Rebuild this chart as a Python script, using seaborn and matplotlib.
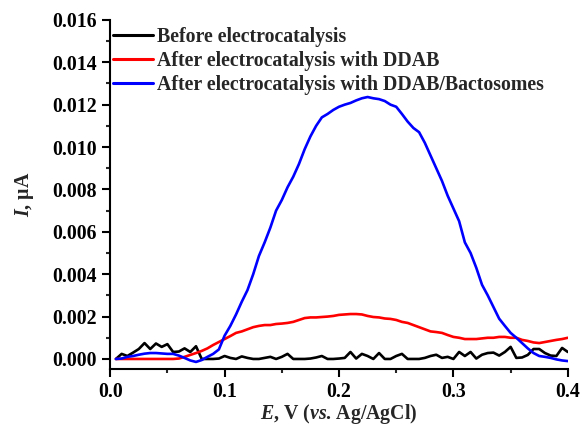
import numpy as np
import pandas as pd
import seaborn as sns
import matplotlib as mpl
from matplotlib import pyplot as plt
from matplotlib.ticker import MultipleLocator

# potential grid, V (vs. Ag/AgCl)
potential = np.round(np.arange(0.005, 0.4001, 0.005), 3)

before = [
    0.0, 0.00024, 0.00014, 0.0003, 0.00047, 0.00075, 0.00047, 0.00073, 0.00057, 0.0007,
    0.00033, 0.00035, 0.0005, 0.00033, 0.0006, 0.0, 0.0, 0.0, 0.00002, 0.00014,
    0.00005, 0.0, 0.00012, 0.00005, 0.0, 0.0, 0.00005, 0.0001, 0.0, 0.0001,
    0.00024, 0.0, 0.0, 0.0, 0.00002, 0.00007, 0.00014, 0.0, 0.0, 0.00002,
    0.00005, 0.00033, 0.00002, 0.00024, 0.00014, 0.0, 0.00028, 0.0, 0.0, 0.00014,
    0.00024, 0.0, 0.0, 0.0, 0.00005, 0.00014, 0.0002, 0.00005, 0.0001, 0.0,
    0.00033, 0.00014, 0.00033, 0.00002, 0.0002, 0.00028, 0.0003, 0.00016, 0.00033, 0.00057,
    0.00005, 0.00007, 0.00019, 0.00047, 0.00047, 0.00028, 0.00016, 0.00014, 0.00052, 0.00033,
]

ddab = [
    0.0, 0.0, 0.0, 0.0, 0.0, 0.0, 0.0, 0.0, 0.0, 0.0,
    0.0, 0.00002, 0.0001, 0.00019, 0.00028, 0.00038, 0.0005, 0.00066, 0.0008, 0.00094,
    0.00108, 0.00123, 0.0013, 0.0014, 0.0015, 0.00156, 0.0016, 0.0016, 0.00165, 0.00167,
    0.0017, 0.00175, 0.00184, 0.00193, 0.00196, 0.00196, 0.00198, 0.002, 0.00203, 0.00208,
    0.0021, 0.00212, 0.00212, 0.0021, 0.00203, 0.00198, 0.00196, 0.00191, 0.00189, 0.00184,
    0.00175, 0.0017, 0.0016, 0.0015, 0.0014, 0.0013, 0.00127, 0.00123, 0.00113, 0.00104,
    0.001, 0.00094, 0.00094, 0.00094, 0.00097, 0.001, 0.001, 0.00104, 0.00104, 0.001,
    0.001, 0.0009, 0.00085, 0.00078, 0.00075, 0.0008, 0.00085, 0.0009, 0.00094, 0.001,
]

bactosomes = [
    0.0, 0.00002, 0.0001, 0.00014, 0.0002, 0.00025, 0.00028, 0.00028, 0.00026, 0.00024,
    0.00024, 0.00016, 0.00005, -0.00007, -0.00014, -0.00005, 0.0001, 0.00024, 0.00045, 0.0011,
    0.00156, 0.0021, 0.0027, 0.00325, 0.004, 0.00486, 0.0055, 0.0062, 0.007, 0.0075,
    0.0081, 0.0086, 0.0092, 0.0099, 0.0105, 0.011, 0.0114, 0.01156, 0.01175, 0.0119,
    0.012, 0.01208, 0.0122, 0.0123, 0.01236, 0.0123, 0.01226, 0.01217, 0.012, 0.0119,
    0.01156, 0.0112, 0.0109, 0.0107, 0.0102, 0.0096, 0.009, 0.0084, 0.0077, 0.0071,
    0.0065, 0.0055, 0.005, 0.0043, 0.0035, 0.003, 0.00245, 0.0019, 0.00156, 0.00123,
    0.001, 0.00075, 0.0005, 0.00028, 0.00014, 0.0001, 0.00005, -0.00002, -0.00007, -0.0001,
]

labels = [
    "Before electrocatalysis",
    "After electrocatalysis with DDAB",
    "After electrocatalysis with DDAB/Bactosomes",
]
colors = ["black", "red", "blue"]

frames = []
for lab, vals in zip(labels, [before, ddab, bactosomes]):
    frames.append(pd.DataFrame({"E": potential, "I": vals, "curve": lab}))
df = pd.concat(frames, ignore_index=True)

sns.set_style("ticks")
plt.rcParams["font.family"] = ["Liberation Serif", "DejaVu Serif"]
plt.rcParams["font.weight"] = "bold"
plt.rcParams["mathtext.fontset"] = "custom"
plt.rcParams["mathtext.it"] = "Liberation Serif:italic:bold"
plt.rcParams["mathtext.rm"] = "Liberation Serif:bold"

fig = plt.figure(figsize=(5.8, 4.32), dpi=100)
ax = fig.add_axes([0.19, 0.146, 0.789, 0.808])

sns.lineplot(data=df, x="E", y="I", hue="curve", palette=colors,
             linewidth=1.9, ax=ax, legend=True)

ax.set_xlim(0, 0.4)
ax.set_ylim(-0.00047, 0.016)
ax.xaxis.set_major_locator(MultipleLocator(0.1))
ax.xaxis.set_minor_locator(MultipleLocator(0.05))
ax.yaxis.set_major_locator(MultipleLocator(0.002))
ax.yaxis.set_minor_locator(MultipleLocator(0.001))
ax.xaxis.set_major_formatter(mpl.ticker.FormatStrFormatter("%.1f"))
ax.yaxis.set_major_formatter(mpl.ticker.FormatStrFormatter("%.3f"))
ax.tick_params(which="major", length=6, width=1.5, labelsize=14.3, colors="black")
ax.tick_params(which="minor", length=3, width=1.5)
for lbl in ax.get_xticklabels() + ax.get_yticklabels():
    lbl.set_fontweight("bold")

sns.despine(ax=ax)
for side in ["left", "bottom"]:
    ax.spines[side].set_linewidth(1.5)
    ax.spines[side].set_color("black")

ax.set_xlabel(r"$E$, V ($vs$. Ag/AgCl)", fontsize=14.3, fontweight="bold", labelpad=0)
ax.set_ylabel(r"$I$, µA", fontsize=14.3, fontweight="bold", labelpad=12)

leg = ax.legend(loc="upper left", bbox_to_anchor=(-0.015, 1.007), frameon=False,
                fontsize=14.3, handlelength=2.0, handletextpad=0.2,
                labelspacing=0.2, borderaxespad=0.1)
for t in leg.get_texts():
    t.set_fontweight("bold")
for h in leg.get_lines():
    h.set_linewidth(2.2)

plt.savefig("out.png", dpi=100)
